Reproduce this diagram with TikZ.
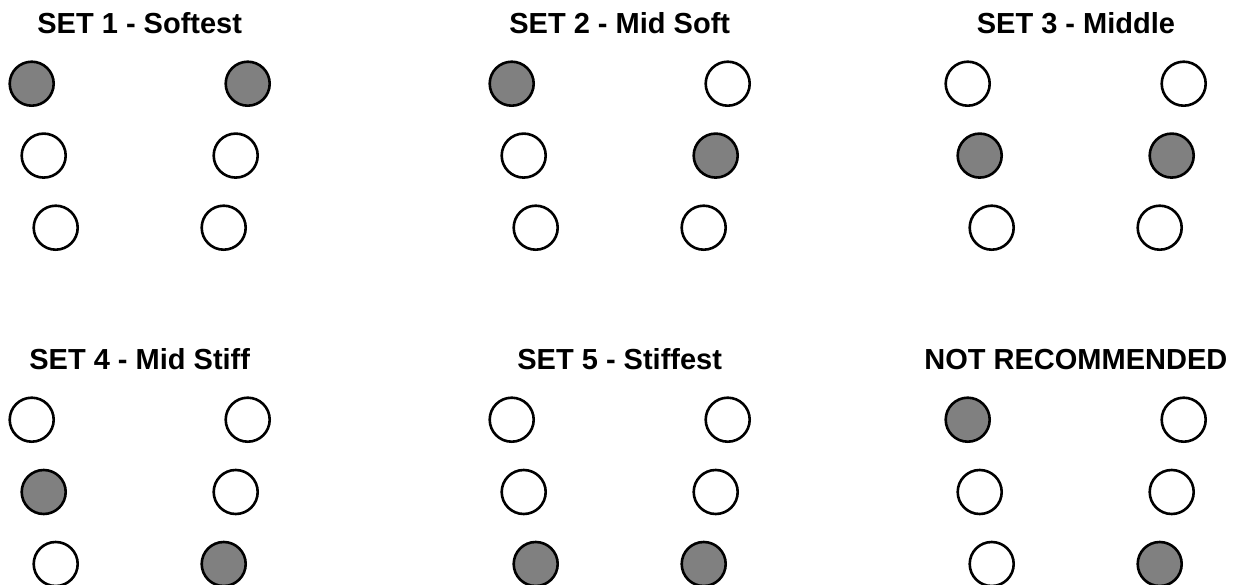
\documentclass[tikz,border=0pt]{standalone}
\usepackage{fontspec}
\setmainfont{Liberation Sans}
\begin{document}
\begin{tikzpicture}[x=1pt,y=-1pt,
    hole/.style={circle,draw=black,line width=2.6pt,fill=white,minimum size=44pt,inner sep=0pt},
    plug/.style={hole,fill=black!50},
    settitle/.style={anchor=base,font=\fontsize{29}{34}\selectfont\bfseries,inner sep=0pt}]
    \useasboundingbox (0,0) rectangle (1243,585);

    \node[settitle] (t1) at (139.7,33.3) {SET 1 - Softest};
    \node[plug] (s1r1l) at (31.7,83.7) {};
    \node[plug] (s1r1r) at (247.7,83.7) {};
    \node[hole] (s1r2l) at (43.7,155.6) {};
    \node[hole] (s1r2r) at (235.7,155.6) {};
    \node[hole] (s1r3l) at (55.7,227.7) {};
    \node[hole] (s1r3r) at (223.7,227.7) {};

    \node[settitle] (t2) at (619.7,33.3) {SET 2 - Mid Soft};
    \node[plug] (s2r1l) at (511.7,83.7) {};
    \node[hole] (s2r1r) at (727.7,83.7) {};
    \node[hole] (s2r2l) at (523.7,155.6) {};
    \node[plug] (s2r2r) at (715.7,155.6) {};
    \node[hole] (s2r3l) at (535.7,227.7) {};
    \node[hole] (s2r3r) at (703.7,227.7) {};

    \node[settitle] (t3) at (1075.9,33.3) {SET 3 - Middle};
    \node[hole] (s3r1l) at (967.7,83.7) {};
    \node[hole] (s3r1r) at (1183.7,83.7) {};
    \node[plug] (s3r2l) at (979.7,155.6) {};
    \node[plug] (s3r2r) at (1171.7,155.6) {};
    \node[hole] (s3r3l) at (991.7,227.7) {};
    \node[hole] (s3r3r) at (1159.7,227.7) {};

    \node[settitle] (t4) at (139.7,370) {SET 4 - Mid Stiff};
    \node[hole] (s4r1l) at (31.7,419.7) {};
    \node[hole] (s4r1r) at (247.7,419.7) {};
    \node[plug] (s4r2l) at (43.7,492) {};
    \node[hole] (s4r2r) at (235.7,492) {};
    \node[hole] (s4r3l) at (55.7,564) {};
    \node[plug] (s4r3r) at (223.7,564) {};

    \node[settitle] (t5) at (619.7,370) {SET 5 - Stiffest};
    \node[hole] (s5r1l) at (511.7,419.7) {};
    \node[hole] (s5r1r) at (727.7,419.7) {};
    \node[hole] (s5r2l) at (523.7,492) {};
    \node[hole] (s5r2r) at (715.7,492) {};
    \node[plug] (s5r3l) at (535.7,564) {};
    \node[plug] (s5r3r) at (703.7,564) {};

    \node[settitle] (t6) at (1075.9,370) {NOT RECOMMENDED};
    \node[plug] (s6r1l) at (967.7,419.7) {};
    \node[hole] (s6r1r) at (1183.7,419.7) {};
    \node[hole] (s6r2l) at (979.7,492) {};
    \node[hole] (s6r2r) at (1171.7,492) {};
    \node[hole] (s6r3l) at (991.7,564) {};
    \node[plug] (s6r3r) at (1159.7,564) {};

\end{tikzpicture}
\end{document}
